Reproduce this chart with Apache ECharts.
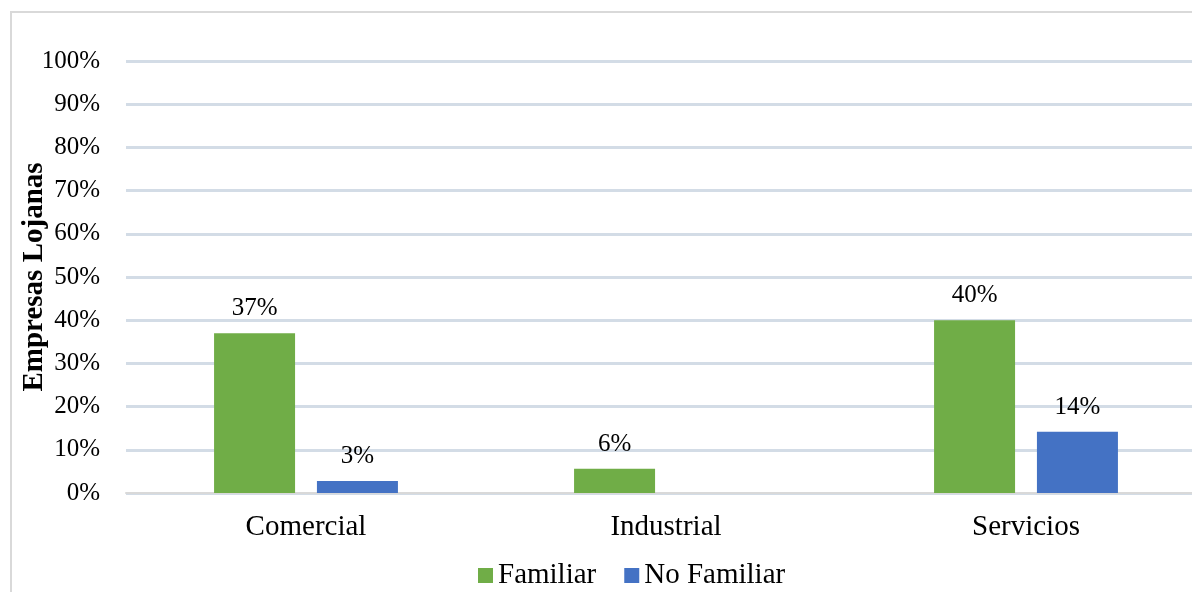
<!DOCTYPE html>
<html>
<head>
<meta charset="utf-8">
<script src="https://cdn.jsdelivr.net/npm/echarts@6/dist/echarts.min.js"></script>
<style>
  html, body { margin: 0; padding: 0; background: #fff; }
  #wrap { position: relative; width: 1192px; height: 592px; overflow: hidden; }
  #frame { position: absolute; left: 10px; top: 11px; width: 1300px; height: 700px;
           border: 2px solid #d9d9d9; box-sizing: border-box; }
  #chart { position: absolute; left: 0; top: 0; width: 1192px; height: 592px; }
</style>
</head>
<body>
<div id="wrap">
  <div id="frame"></div>
  <div id="chart"></div>
</div>
<script>
var categories = ["Comercial", "Industrial", "Servicios"];
var familiar = [37, 5.6, 40];
var noFamiliar = [2.8, null, 14.2];
var yTicks = [0, 10, 20, 30, 40, 50, 60, 70, 80, 90, 100];

var serif = "'Liberation Serif', 'Times New Roman', serif";

var chart = echarts.init(document.getElementById("chart"), null, { renderer: "canvas" });

function pctLabel(p) {
    return Math.round(p.value) + "%";
}

var option = {
    animation: false,
    grid: {
        left: 126, width: 1080, top: 61, bottom: 99,
        outerBoundsMode: "none", containLabel: false
    },
    legend: {
        bottom: -3,
        left: 473,
        itemWidth: 15,
        itemHeight: 15,
        itemGap: 28,
        icon: "rect",
        textStyle: { fontFamily: serif, fontSize: 29, color: "#000" },
        data: ["Familiar", "No Familiar"]
    },
    xAxis: {
        type: "category",
        data: categories,
        axisLine: { lineStyle: { color: "#d9d9d9", width: 2 } },
        axisTick: { show: false },
        axisLabel: { fontFamily: serif, fontSize: 29, color: "#000", margin: 20 }
    },
    yAxis: {
        type: "value",
        min: yTicks[0],
        max: yTicks[yTicks.length - 1],
        interval: 10,
        name: "Empresas Lojanas",
        nameLocation: "middle",
        nameGap: 77,
        nameMoveOverlap: false,
        nameTextStyle: { fontFamily: serif, fontSize: 29, fontWeight: "bold", color: "#000" },
        axisLine: { show: false },
        axisTick: { show: false },
        splitLine: { lineStyle: { color: "#d3dce6", width: 3 } },
        axisLabel: {
            fontFamily: serif, fontSize: 25, color: "#000", margin: 26,
            formatter: function (v) { return v + "%"; }
        }
    },
    series: [
        {
            name: "Familiar",
            type: "bar",
            data: familiar,
            barWidth: 81,
            barGap: "27%",
            itemStyle: { color: "#70ad47" },
            label: {
                show: true, position: "top", distance: 12,
                fontFamily: serif, fontSize: 25, color: "#000",
                formatter: pctLabel
            }
        },
        {
            name: "No Familiar",
            type: "bar",
            data: noFamiliar,
            barWidth: 81,
            itemStyle: { color: "#4472c4" },
            label: {
                show: true, position: "top", distance: 12,
                fontFamily: serif, fontSize: 25, color: "#000",
                formatter: pctLabel
            }
        }
    ]
};

chart.setOption(option);
</script>
</body>
</html>
